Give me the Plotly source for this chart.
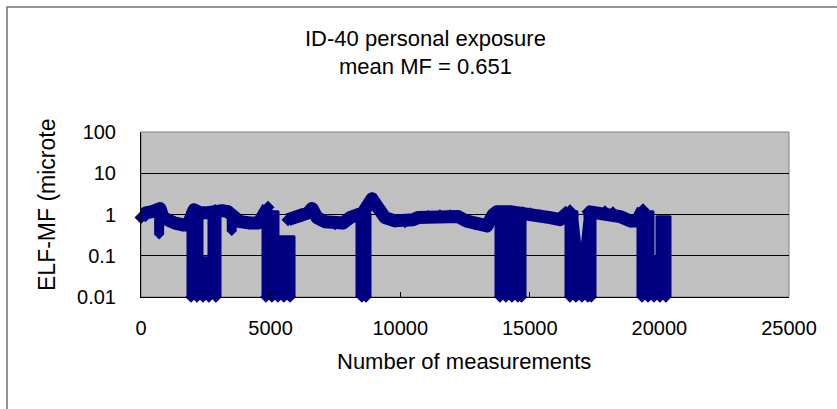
import plotly.graph_objects as go

# ---- data ----
# upper band of the measurement series (None = break in the band)
band_x = [0, 193, 424, 617, 733, 849, 1042, 1312, 1620, 1813, 2045, 2276, 2585, 2855,
          3125, 3356, 3549, 3819, 4205, 4514, 4668, 4900, None,
          5671, 5941, 6211, 6443, 6597, 6790, 7099, 7485, 7793, 8063, 8333, 8565,
          8912, 9143, 9413, 9799, 10185, 10494, 10687, 11072, 11535, 11921, 12230,
          12539, 12886, 13349, 13580, 13734, 14236, 14738, 15008, 15394, 15780,
          16166, 16359, 16551, None,
          17245, 17515, 17901, 18210, 18480, 18866, 19136, 19367]
band_y = [0.85, 1.1, 1.17, 1.24, 1.4, 0.84, 0.70, 0.62, 0.56, 0.56, 1.3, 1.1, 1.1, 1.25,
          1.24, 1.17, 0.84, 0.67, 0.62, 0.62, 0.84, 1.5, None,
          0.75, 0.84, 0.93, 1.1, 1.4, 0.84, 0.67, 0.60, 0.62, 0.84, 0.98, 1.1,
          2.4, 1.3, 0.84, 0.70, 0.67, 0.75, 0.84, 0.89, 0.93, 0.93, 0.89,
          0.70, 0.60, 0.53, 0.98, 1.17, 1.17, 1.1, 1.05, 0.93, 0.84,
          0.75, 0.98, 1.24, None,
          1.17, 1.1, 1.17, 1.1, 0.89, 0.70, 0.70, 1.3]

# short dips below the band: position, lowest, highest value
dip_x = [700, 3500]
dip_lo = [0.33, 0.40]
dip_hi = [1.1, 1.1]

# outlines of the low-reading periods (None separates periods)
low_x = [1813, 1813, 2353, 2353, 2623, 2623, 3048, 3048, None,
         4707, 4707, 5285, 5285, 5903, 5903, None,
         8333, 8333, 8835, 8835, None,
         13696, 13696, 14815, 14815, None,
         16397, 16397, 16821, 16821, 16975, 17130, 17130, 17515, 17515, None,
         19174, 19174, 19753, 19753, 19907, 19907, 20409, 20409]
low_y = [0.01, 1.17, 1.17, 0.09, 0.09, 1.17, 1.17, 0.01, None,
         0.01, 1.17, 1.17, 0.29, 0.29, 0.01, None,
         0.01, 1.05, 1.05, 0.01, None,
         0.01, 1.17, 1.17, 0.01, None,
         0.01, 1.17, 1.17, 0.75, 0.095, 0.75, 1.17, 1.17, 0.01, None,
         0.01, 1.17, 1.17, 0.095, 0.095, 0.88, 0.88, 0.01]

# readings at the instrument floor (0.01)
floor_x = [1930, 2160, 2390, 2620, 2890, 4820, 5050, 5280, 5510, 5750,
           8520, 8680, 13850, 14080, 14310, 14540, 14680,
           16550, 16780, 17010, 17240, 17370, 19330, 19560, 19790, 20020, 20250]
floor_y = [0.01] * len(floor_x)

# rounded top reading of the last period
top_x = [20120]
top_y = [0.67]

y_tickvals = [0.01, 0.1, 1, 10, 100]
y_ticktext = ["0.01", "0.1", "1", "10", "100"]
x_tickvals = [0, 5000, 10000, 15000, 20000, 25000]
x_ticktext = ["0", "5000", "10000", "15000", "20000", "25000"]

title1 = "ID-40 personal exposure"
title2 = "mean MF = 0.651"
x_title = "Number of measurements"
y_title = "ELF-MF (microte"

NAVY = "#000080"
FONT = "Liberation Sans"

dcol_x, dcol_y = [], []
for x, lo, hi in zip(dip_x, dip_lo, dip_hi):
    dcol_x += [x, x, None]
    dcol_y += [lo, hi, None]

fig = go.Figure()
fig.add_trace(go.Scatter(
    x=low_x, y=low_y, mode="lines", fill="toself", fillcolor=NAVY,
    line=dict(color=NAVY, width=3),
    showlegend=False, hoverinfo="skip"))
fig.add_trace(go.Scatter(
    x=dcol_x, y=dcol_y, mode="lines+markers",
    line=dict(color=NAVY, width=10),
    marker=dict(symbol="diamond", size=8, color=NAVY),
    cliponaxis=False, showlegend=False, hoverinfo="skip"))
fig.add_trace(go.Scatter(
    x=floor_x + top_x, y=floor_y + top_y, mode="markers",
    marker=dict(symbol="diamond", size=9, color=NAVY),
    cliponaxis=False, showlegend=False, hoverinfo="skip"))
fig.add_trace(go.Scatter(
    x=band_x, y=band_y, mode="lines+markers",
    line=dict(color=NAVY, width=13),
    marker=dict(symbol="diamond", size=10, color=NAVY),
    cliponaxis=False, connectgaps=False, showlegend=False, hoverinfo="skip"))

L, R, T, B = 141, 48, 132, 112
W, H = 837, 409
pw, ph = W - L - R, H - T - B

def px(xp):
    return (xp - L) / pw

def py(yp):
    return (H - B - yp) / ph

fig.update_layout(
    width=W, height=H,
    margin=dict(l=L, r=R, t=T, b=B, pad=0),
    paper_bgcolor="white", plot_bgcolor="#C0C0C0",
    font=dict(family=FONT, size=20, color="black"),
    showlegend=False,
    xaxis=dict(range=[0, 25000], tickmode="array", tickvals=x_tickvals,
               ticktext=x_ticktext, showgrid=False, zeroline=False,
               showline=True, linecolor="black", linewidth=1,
               ticks="inside", ticklen=5, tickcolor="black",
               ticklabelstandoff=13,
               tickfont=dict(family=FONT, size=20)),
    yaxis=dict(type="log", range=[-2, 2], tickmode="array", tickvals=y_tickvals,
               ticktext=y_ticktext, showgrid=True, gridcolor="black", gridwidth=1,
               zeroline=False, showline=True, linecolor="black", linewidth=1,
               ticks="", ticklabelstandoff=20,
               tickfont=dict(family=FONT, size=20)),
    shapes=[
        dict(type="rect", xref="paper", yref="paper", x0=0, y0=0, x1=1, y1=1,
             line=dict(color="#808080", width=1), layer="below"),
        dict(type="rect", xref="paper", yref="paper",
             x0=px(7), y0=py(430), x1=px(860), y1=py(7),
             line=dict(color="#707070", width=1.5), layer="below"),
    ],
    annotations=[
        dict(text=title1, xref="paper", yref="paper", x=px(425), y=py(38),
             xanchor="center", yanchor="middle", showarrow=False,
             font=dict(family=FONT, size=22)),
        dict(text=title2, xref="paper", yref="paper", x=px(425), y=py(66),
             xanchor="center", yanchor="middle", showarrow=False,
             font=dict(family=FONT, size=22)),
        dict(text=x_title, xref="paper", yref="paper", x=px(464), y=py(361),
             xanchor="center", yanchor="middle", showarrow=False,
             font=dict(family=FONT, size=22)),
        dict(text=y_title, xref="paper", yref="paper", x=px(47), y=py(205),
             xanchor="center", yanchor="middle", showarrow=False, textangle=-90,
             font=dict(family=FONT, size=23)),
    ],
)

fig.write_html("out.html",
               post_script="document.querySelectorAll('path.js-line').forEach(function(p){p.style.strokeLinejoin='round';});")
